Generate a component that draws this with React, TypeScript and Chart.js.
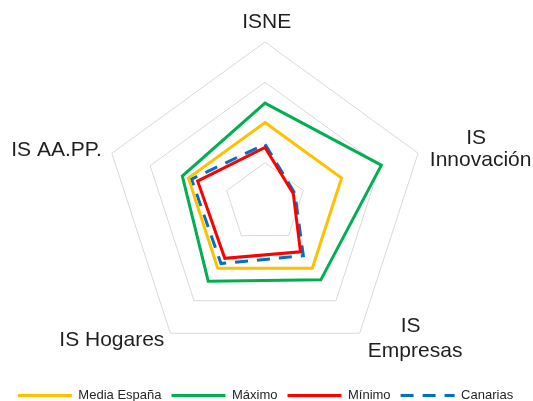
import React, { useEffect, useRef } from "react";
import { Chart, registerables } from "chart.js";

Chart.register(...registerables);

const categories = ["ISNE", "IS Innovación", "IS Empresas", "IS Hogares", "IS AA.PP."];
const categoryLines = [["ISNE"], ["IS", "Innovación"], ["IS", "Empresas"], ["IS Hogares"], ["IS AA.PP."]];
const seriesNames = ["Media España", "Máximo", "Mínimo", "Canarias"];
const mediaEspana = [100, 100, 100, 100, 100];
const maximo = [124, 152, 118, 120, 108];
const minimo = [69, 37, 75, 85, 88];
const canarias = [73, 39, 81, 93, 96];
const scaleMin = 0;
const scaleMax = 200;
const scaleStep = 50;

const FONT = '"Liberation Sans", Arial, sans-serif';
const outerRadius = 161;

// per-line offsets from the outer grid vertex: [dx, dy, align]
const labelLayout: [number, number, CanvasTextAlign][][] = [
  [[1.7, -13.7, "center"]],
  [[58, -9.3, "center"], [62.5, 12.4, "center"]],
  [[51, -1.6, "center"], [55.5, 23.4, "center"]],
  [[-6, 12.7, "right"]],
  [[-10, 3, "right"]],
];

const axisLabelPlugin = {
  id: "axisLabels",
  afterDraw(chart: any) {
    const scale = chart.scales.r;
    const ctx = chart.ctx as CanvasRenderingContext2D;
    ctx.save();
    ctx.font = `21px ${FONT}`;
    ctx.fillStyle = "#1f1f1f";
    ctx.textBaseline = "alphabetic";
    categoryLines.forEach((lines, i) => {
      const p = scale.getPointPosition(i, scale.drawingArea);
      lines.forEach((t, j) => {
        const [dx, dy, align] = labelLayout[i][j];
        ctx.textAlign = align;
        ctx.fillText(t, p.x + dx, p.y + dy);
      });
    });
    ctx.restore();
  },
};

function lineDs(label: string, data: number[], color: string, dash: number[] = []) {
  return {
    label,
    data,
    borderColor: color,
    backgroundColor: "rgba(0,0,0,0)",
    borderWidth: 3,
    borderDash: dash,
    borderJoinStyle: "miter" as const,
    fill: false,
    pointRadius: 0,
    pointHoverRadius: 0,
    pointStyle: "line" as const,
  };
}

export default function App() {
  const ref = useRef<HTMLCanvasElement | null>(null);
  useEffect(() => {
    if (!ref.current) return;
    const chart = new Chart(ref.current, {
      type: "radar",
      data: {
        labels: categories,
        datasets: [
          lineDs(seriesNames[0], mediaEspana, "#FFC000"),
          lineDs(seriesNames[1], maximo, "#00B050"),
          lineDs(seriesNames[2], minimo, "#FF0000"),
          lineDs(seriesNames[3], canarias, "#0070C0", [13, 9]),
        ],
      },
      options: {
        responsive: false,
        devicePixelRatio: 1,
        animation: false,
        layout: { padding: { top: 28, left: 0, right: 2, bottom: 0 } },
        plugins: {
          tooltip: { enabled: false },
          legend: {
            position: "bottom",
            labels: {
              usePointStyle: true,
              pointStyle: "line",
              pointStyleWidth: 54,
              font: { size: 13, family: FONT },
              color: "#262626",
              padding: 10,
              generateLabels: (chart: any) => {
                const items = Chart.defaults.plugins.legend.labels.generateLabels(chart);
                return items.map((it: any) => {
                  const ds = chart.data.datasets[it.datasetIndex];
                  return {
                    ...it,
                    strokeStyle: ds.borderColor,
                    lineWidth: ds.borderWidth,
                    lineDash: ds.borderDash,
                    lineCap: "butt",
                  };
                });
              },
            },
          },
        },
        scales: {
          r: {
            min: scaleMin,
            max: scaleMax,
            ticks: { stepSize: scaleStep, display: false },
            pointLabels: { display: false },
            angleLines: { display: false },
            grid: { color: "#d9d9d9", lineWidth: 1 },
            afterFit: (scale: any) => {
              scale.drawingArea = Math.min(scale.drawingArea, outerRadius);
            },
          },
        },
      } as any,
      plugins: [axisLabelPlugin],
    });
    return () => chart.destroy();
  }, []);
  return (
    <div style={{ position: "fixed", left: 0, top: 0, width: 533, height: 401, overflow: "hidden", background: "#fff" }}>
      <canvas ref={ref} width={533} height={412} style={{ display: "block" }} />
    </div>
  );
}
